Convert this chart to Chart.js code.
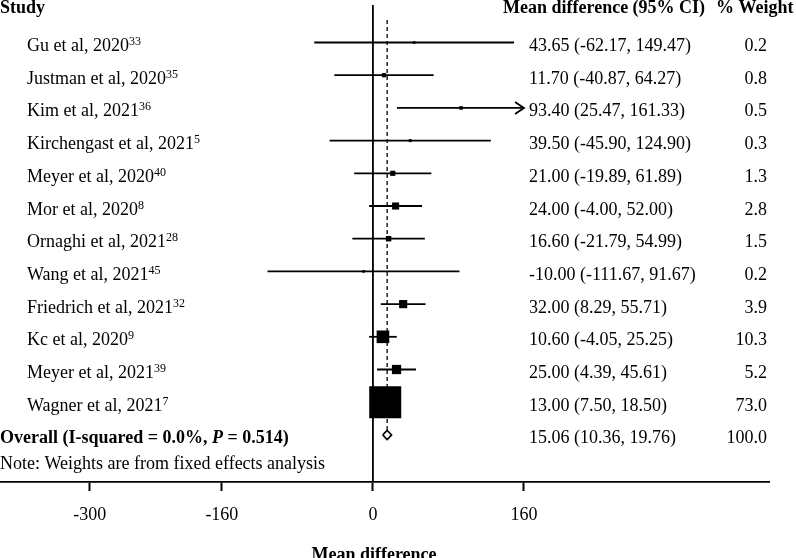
<!DOCTYPE html>
<html><head><meta charset="utf-8">
<script src="https://cdn.jsdelivr.net/npm/chart.js@4.4.0/dist/chart.umd.min.js"></script>
<style>html,body{margin:0;padding:0;background:#fff}#wrap{width:796px;height:558px;position:relative;overflow:hidden}</style>
</head><body><div id="wrap"><canvas id="c" width="796" height="558"></canvas></div>
<script>
const studies = ['Gu et al, 2020','Justman et al, 2020','Kim et al, 2021','Kirchengast et al, 2021','Meyer et al, 2020','Mor et al, 2020','Ornaghi et al, 2021','Wang et al, 2021','Friedrich et al, 2021','Kc et al, 2020','Meyer et al, 2021','Wagner et al, 2021'];
const refs = ['33','35','36','5','40','8','28','45','32','9','39','7'];
const meanDiff = [43.65, 11.70, 93.40, 39.50, 21.00, 24.00, 16.60, -10.00, 32.00, 10.60, 25.00, 13.00];
const ciLow = [-62.17, -40.87, 25.47, -45.90, -19.89, -4.00, -21.79, -111.67, 8.29, -4.05, 4.39, 7.50];
const ciHigh = [149.47, 64.27, 161.33, 124.90, 61.89, 52.00, 54.99, 91.67, 55.71, 25.25, 45.61, 18.50];
const weights = [0.2, 0.8, 0.5, 0.3, 1.3, 2.8, 1.5, 0.2, 3.9, 10.3, 5.2, 73.0];
const overallMD = 15.06, overallLo = 10.36, overallHi = 19.76, overallW = 100.0;
const xTicks = [-300, -160, 0, 160];
const xClip = 160;

const F = '"Liberation Serif", "Times New Roman", serif';
Chart.defaults.font.family = F;
const X_MIN = -395, X_MAX = 419.5, Y_MIN = -0.147, Y_MAX = 14.44;
const overallRow = studies.length + 1;

const datasets = [];
// zero line
datasets.push({data:[{x:0,y:Y_MIN},{x:0,y:Y_MAX}], showLine:true, borderColor:'#000', borderWidth:1.8, pointRadius:0, order:10});
// dashed overall line
datasets.push({data:[{x:overallMD,y:0.31},{x:overallMD,y:overallRow-0.14}], showLine:true, borderColor:'#000', borderWidth:1.3, borderDash:[4,3], pointRadius:0, order:9});
// CI lines
studies.forEach((s,i)=>{
  datasets.push({data:[{x:ciLow[i],y:i+1},{x:Math.min(ciHigh[i],xClip),y:i+1}], showLine:true, borderColor:'#000', borderWidth:1.8, pointRadius:0, order:8});
});
// squares
const maxW = Math.max(...weights);
datasets.push({
  data: meanDiff.map((v,i)=>({x:v,y:i+1})),
  pointStyle:'rect',
  pointRadius: weights.map(w => (31*Math.sqrt(w/maxW)+1)/Math.SQRT2),
  pointBackgroundColor:'#000', pointBorderWidth:0, borderWidth:0, order:2
});
// diamond
datasets.push({data:[{x:overallLo,y:overallRow},{x:overallMD,y:overallRow-0.14},{x:overallHi,y:overallRow},{x:overallMD,y:overallRow+0.14},{x:overallLo,y:overallRow}],
  showLine:true, borderColor:'#000', borderWidth:1.6, pointRadius:0, order:1});

const textPlugin = {
  id:'forestText',
  afterDatasetsDraw(chart){
    const ctx = chart.ctx, xs = chart.scales.x, ys = chart.scales.y;
    ctx.save();
    ctx.strokeStyle='#000'; ctx.lineWidth=1.8;
    ciHigh.forEach((h,i)=>{
      if (h > xClip){
        const px = xs.getPixelForValue(xClip), py = ys.getPixelForValue(i+1);
        ctx.beginPath(); ctx.moveTo(px-9,py-6); ctx.lineTo(px,py); ctx.lineTo(px-9,py+6); ctx.stroke();
      }
    });
    ctx.restore();
  },
  afterDraw(chart){
    const ctx = chart.ctx, ys = chart.scales.y;
    ctx.save();
    ctx.fillStyle='#000';
    ctx.textBaseline='alphabetic';
    ctx.font='bold 18px '+F;
    ctx.textAlign='left';
    ctx.fillText('Study', 0, 13);
    ctx.fillText('Mean difference (95% CI)', 503, 13);
    ctx.fillText('% Weight', 716, 13);
    studies.forEach((s,i)=>{
      const y = ys.getPixelForValue(i+1) + 8.5;
      ctx.font='18px '+F; ctx.textAlign='left';
      ctx.fillText(s, 27, y);
      const w = ctx.measureText(s).width;
      ctx.font='12px '+F;
      ctx.fillText(refs[i], 27+w, y-6);
      ctx.font='18px '+F;
      ctx.fillText(meanDiff[i].toFixed(2)+' ('+ciLow[i].toFixed(2)+', '+ciHigh[i].toFixed(2)+')', 529, y);
      ctx.textAlign='right';
      ctx.fillText(weights[i].toFixed(1), 767, y);
    });
    const yo = ys.getPixelForValue(overallRow) + 8.5;
    ctx.textAlign='left';
    ctx.font='bold 18px '+F;
    let t1='Overall (I-squared = 0.0%, ';
    ctx.fillText(t1, 0, yo);
    let x = ctx.measureText(t1).width;
    ctx.font='italic bold 18px '+F;
    ctx.fillText('P', x, yo);
    x += ctx.measureText('P').width;
    ctx.font='bold 18px '+F;
    ctx.fillText(' = 0.514)', x, yo);
    ctx.font='18px '+F;
    ctx.fillText(overallMD.toFixed(2)+' ('+overallLo.toFixed(2)+', '+overallHi.toFixed(2)+')', 529, yo);
    ctx.textAlign='right';
    ctx.fillText(overallW.toFixed(1), 767, yo);
    ctx.textAlign='left';
    ctx.fillText('Note: Weights are from fixed effects analysis', 0, yo+26);
    ctx.font='bold 18px '+F;
    ctx.textAlign='center';
    ctx.fillText('Mean difference', 374, 560);
    ctx.restore();
  }
};

new Chart(document.getElementById('c'), {
  type:'scatter',
  data:{datasets},
  options:{
    responsive:false, animation:false, events:[],
    layout:{autoPadding:false, padding:{top:5,right:27,left:0,bottom:0}},
    plugins:{legend:{display:false}, tooltip:{enabled:false}},
    scales:{
      x:{type:'linear', min:X_MIN, max:X_MAX,
        afterBuildTicks:(s)=>{ s.ticks = xTicks.map(v=>({value:v})); },
        afterFit:(s)=>{ s.height = 76; s.paddingLeft = 0; s.paddingRight = 0; },
        ticks:{autoSkip:false, maxRotation:0, color:'#000', font:{size:18, family:F}, padding:13, callback:(v)=>String(v)},
        grid:{drawOnChartArea:false, drawTicks:true, tickLength:9, tickWidth:2, tickColor:'#000'},
        border:{display:true, color:'#000', width:1.8}
      },
      y:{type:'linear', display:false, reverse:true, min:Y_MIN, max:Y_MAX}
    }
  },
  plugins:[textPlugin]
});
</script></body></html>
